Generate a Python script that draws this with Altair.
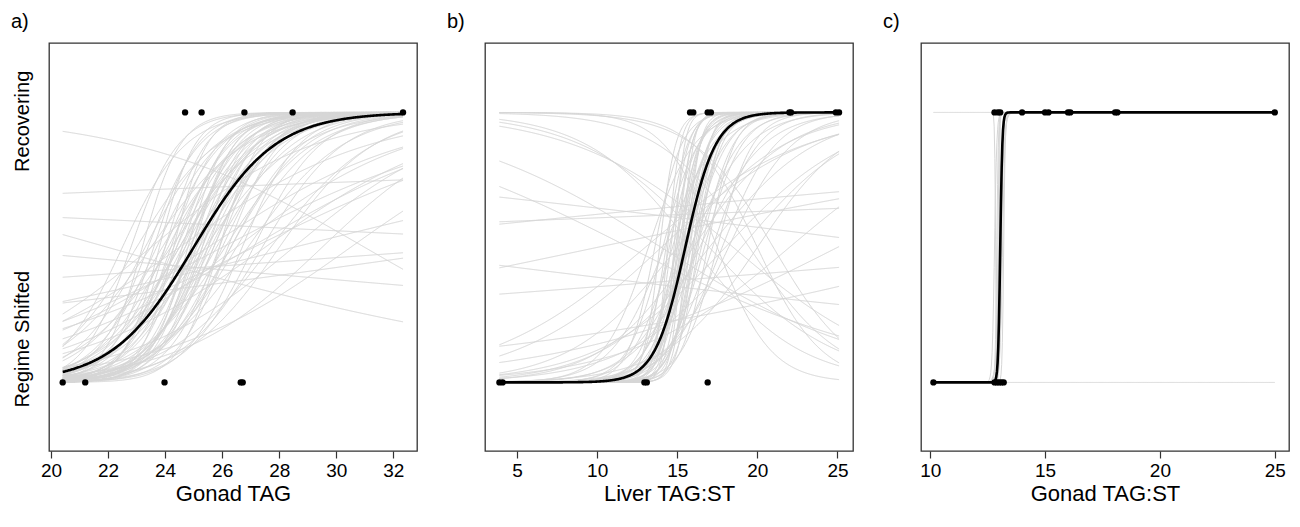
import altair as alt
import pandas as pd

# ---------------- data ----------------
# Panel a: Gonad TAG
A_REC = [24.70, 25.28, 26.78, 28.47, 32.34]          # Recovering (y = 1)
A_RS = [20.41, 21.20, 23.98, 26.65, 26.72]           # Regime shifted (y = 0)
A_FIT = (25.0, 0.70)                                  # black fit: midpoint, slope
A_MID = [22.5, 22.8, 23.0, 23.2, 23.3, 23.4, 23.5, 23.6, 23.7, 23.8,
         23.9, 24.0, 24.0, 24.1, 24.2, 24.2, 24.3, 24.4, 24.4, 24.5,
         24.6, 24.6, 24.7, 24.8, 24.8, 24.9, 25.0, 25.0, 25.1, 25.2,
         25.2, 25.3, 25.4, 25.4, 25.5, 25.6, 25.7, 25.8, 25.9, 26.0,
         26.1, 26.2, 26.3, 26.5, 26.7, 26.9, 27.1, 27.4, 27.7, 28.0,
         24.3, 24.7, 25.1, 25.5, 25.9, 26.3, 24.9, 25.7, 24.5, 25.3,
         23.5, 24.5, 25.5, 26.5, 27.5, 28.5, 29.5, 26.0, 27.0, 30.5,
         31.0, -20.0, 41.8, 17.3, 34.9, 28.5, 27.1, 35.0, 22.0]
A_SLOPE = [0.9, 1.2, 0.7, 1.5, 0.8, 1.1, 0.6, 1.3, 0.9, 1.6,
           0.7, 1.0, 1.4, 0.8, 1.2, 0.6, 1.7, 0.9, 1.1, 0.75,
           1.3, 0.85, 1.0, 1.5, 0.65, 1.2, 0.9, 1.4, 0.8, 1.1,
           0.7, 1.3, 0.95, 0.6, 1.2, 0.85, 1.0, 0.75, 1.4, 0.9,
           0.65, 1.1, 0.8, 0.7, 1.0, 0.6, 0.85, 0.7, 0.55, 0.6,
           1.0, 0.8, 1.2, 0.9, 1.1, 0.75, 1.3, 0.95, 0.7, 1.05,
           0.35, 0.3, 0.28, 0.32, 0.3, 0.35, 0.4, 0.22, 0.25, 0.3,
           -0.244, 0.021, -0.021, -0.0385, 0.031, 0.105, 0.208, 0.06, -0.12]

# Panel b: Liver TAG:ST
B_REC = [15.8, 16.0, 16.9, 17.1, 22.0, 22.1, 24.9, 25.1]
B_RS = [3.90, 4.10, 12.95, 13.10, 16.90]
B_FIT = (15.5, 1.05)
B_MID = [13.6, 13.9, 14.1, 14.3, 14.4, 14.5, 14.6, 14.7, 14.8, 14.9,
         15.0, 15.0, 15.1, 15.2, 15.3, 15.3, 15.4, 15.5, 15.5, 15.6,
         15.7, 15.8, 15.9, 16.0, 16.1, 16.2, 16.3, 16.5, 16.7, 16.9,
         17.2, 17.5, 14.2, 15.8, 16.4, 13.2, 17.8, 18.2,
         15.2, 15.6, 16.0, 14.9, 15.4, 16.2,
         16.0, 17.0, 18.0, 15.0, 19.0, 14.0, 20.0, 13.0,
         17.0, 18.5, 16.0, 19.5, 17.5, 20.0, 21.0, 14.0, 12.0,
         -34.5, -10.0, 40.0, 10.0, 30.0, -5.0, 35.0, 25.0, 22.0]
B_SLOPE = [1.2, 2.0, 0.9, 1.5, 2.5, 1.1, 1.8, 0.8, 3.0, 1.3,
           1.0, 2.2, 1.6, 0.9, 2.8, 1.2, 1.9, 1.4, 0.8, 2.4,
           1.1, 1.7, 0.9, 2.0, 1.3, 0.75, 1.5, 1.0, 0.85, 1.2,
           0.7, 0.9, 0.6, 0.55, 0.5, 0.7, 0.6, 0.5,
           1.6, 1.1, 1.4, 2.0, 0.95, 1.25,
           0.35, 0.3, 0.25, 0.3, 0.28, 0.22, 0.35, 0.2,
           -0.25, -0.2, -0.3, -0.35, -0.6, -0.5, -0.4, -0.15, -0.12,
           0.01, 0.025, 0.02, 0.05, -0.03, -0.03, 0.06, 0.12, 0.2]

# Panel c: Gonad TAG:ST
C_REC = [12.80, 12.95, 13.05, 14.00, 15.00, 15.15, 16.00, 16.10, 18.05, 18.15, 25.00]
C_RS = [10.14, 12.80, 12.90, 13.00, 13.10, 13.20]
C_FIT = (13.05, 22.0)
C_MID = [12.85, 12.9, 13.0, 13.1, 12.95, 13.05, 13.15, 12.8, 13.2, 13.0]
C_SLOPE = [-45.0, 30.0, 15.0, 25.0, 40.0, 12.0, 18.0, 20.0, 30.0, 60.0]

PANELS = [
    dict(label="a)", title="Gonad TAG", rec=A_REC, rs=A_RS, fit=A_FIT,
         mids=A_MID, slopes=A_SLOPE, domain=[19.93, 32.83],
         ticks=[20, 22, 24, 26, 28, 30, 32]),
    dict(label="b)", title="Liver TAG:ST", rec=B_REC, rs=B_RS, fit=B_FIT,
         mids=B_MID, slopes=B_SLOPE, domain=[3.0, 25.97],
         ticks=[5, 10, 15, 20, 25]),
    dict(label="c)", title="Gonad TAG:ST", rec=C_REC, rs=C_RS, fit=C_FIT,
         mids=C_MID, slopes=C_SLOPE, domain=[9.6, 25.62],
         ticks=[10, 15, 20, 25]),
]
Y_LABELS = ["Recovering", "Regime Shifted"]
Y_LABEL_POS = [0.967, 0.16]

FONT = "Liberation Sans"
W, H = 368, 408
YDOM = [-0.254, 1.257]
GREY = "#d6d6d6"


def curve_layer(mids, slopes, xmin, xmax, xenc, yenc, color, width, n=500):
    df = pd.DataFrame({"id": list(range(len(mids))), "m": mids, "k": slopes})
    return (
        alt.Chart(df)
        .transform_calculate(t=f"sequence(0, {n + 1})")
        .transform_flatten(["t"])
        .transform_calculate(
            x=f"{xmin} + datum.t * ({xmax} - {xmin}) / {n}",
            y="1 / (1 + exp(-datum.k * (datum.x - datum.m)))",
        )
        .mark_line(color=color, strokeWidth=width)
        .encode(x=xenc, y=yenc, detail="id:N", order="t:Q")
    )


def panel(p, first):
    allx = p["rec"] + p["rs"]
    xmin, xmax = min(allx), max(allx)
    xenc = alt.X(
        "x:Q",
        title=p["title"],
        scale=alt.Scale(domain=p["domain"], nice=False, zero=False),
        axis=alt.Axis(
            values=p["ticks"], domain=False, grid=False, tickSize=7,
            tickColor="#333333", tickWidth=1.2, labelFontSize=19, labelFont=FONT,
            labelColor="black", labelPadding=3, titleFontSize=22, titleFont=FONT,
            titleFontWeight="normal", titleColor="black", titlePadding=3,
            labelFlush=False,
        ),
    )
    yenc = alt.Y("y:Q", scale=alt.Scale(domain=YDOM, nice=False, zero=False), axis=None)

    grey = curve_layer(p["mids"], p["slopes"], xmin, xmax, xenc, yenc, GREY, 1.0)
    black = curve_layer([p["fit"][0]], [p["fit"][1]], xmin, xmax, xenc, yenc, "black", 2.6)
    pts_df = pd.DataFrame({
        "x": p["rec"] + p["rs"],
        "y": [1] * len(p["rec"]) + [0] * len(p["rs"]),
    })
    pts = alt.Chart(pts_df).mark_circle(color="black", size=40, opacity=1).encode(x=xenc, y=yenc)

    lab = alt.Chart(pd.DataFrame({"lab": [p["label"]]})).mark_text(
        font=FONT, fontSize=20, align="left", baseline="alphabetic", color="black"
    ).encode(x=alt.value(-38), y=alt.value(-15), text="lab:N")

    layers = [grey, black, pts, lab]
    if first:
        ylab = alt.Chart(pd.DataFrame({"t": Y_LABELS, "v": Y_LABEL_POS})).mark_text(
            font=FONT, fontSize=20, angle=270, align="center", baseline="middle", color="black"
        ).encode(x=alt.value(-26), y=alt.Y("v:Q", scale=alt.Scale(domain=YDOM, nice=False, zero=False), axis=None), text="t:N")
        layers.append(ylab)
    return alt.layer(*layers).properties(width=W, height=H)


chart = (
    alt.hconcat(*[panel(p, i == 0) for i, p in enumerate(PANELS)], spacing=68, bounds="flush")
    .properties(padding={"left": 2, "top": 3, "right": 0, "bottom": 2})
    .configure(background="white")
    .configure_view(stroke="#333333", strokeWidth=1.3)
)

chart.save("out.html", embed_options={"renderer": "svg", "actions": False})
